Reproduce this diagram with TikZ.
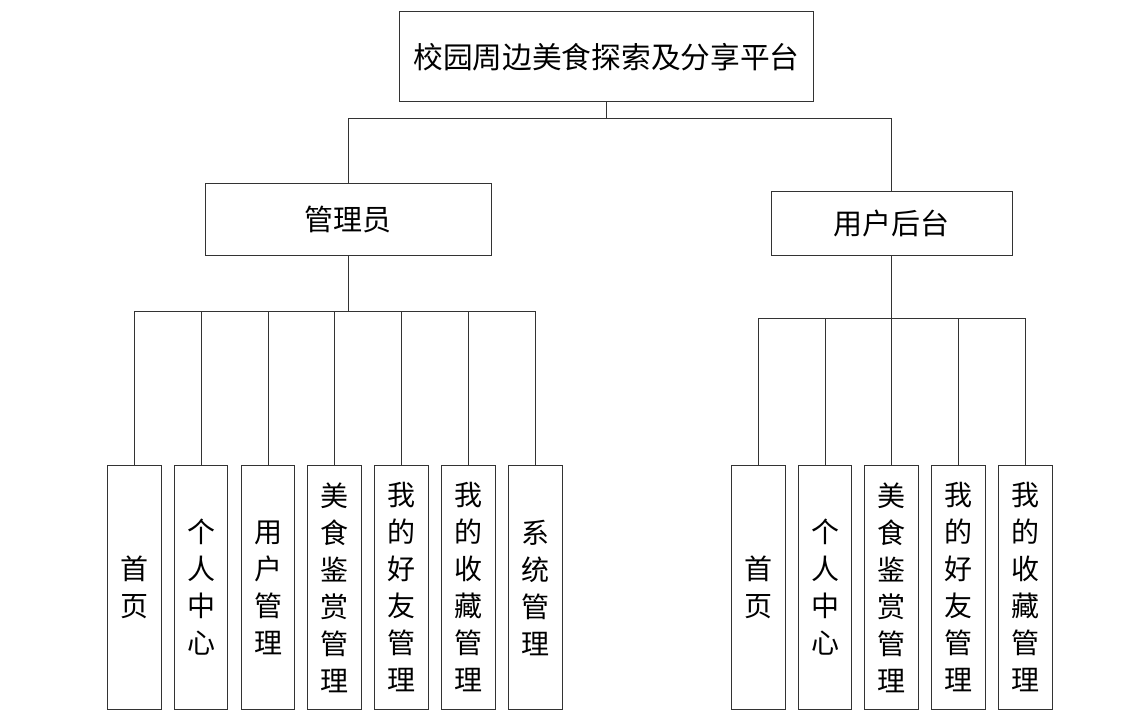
\documentclass[tikz,border=0pt]{standalone}
\usepackage{fontspec}
\setmainfont{Noto Sans CJK SC}
\usepackage{tikz}

\begin{document}
\begin{tikzpicture}[x = 1pt, y = -1pt, line width = .8pt,
		box/.style = {draw = black!80, inner sep = 0pt, align = center},
		leaf/.style = {box, minimum width = 53.7pt, minimum height = 243.6pt, text width = 53.7pt,
			font = \fontsize{28}{37}\selectfont}]
		\useasboundingbox (0, 0) rectangle (1132, 722);
		\node [box, minimum width = 414pt, minimum height = 90pt, font = \fontsize{29.7}{32}\selectfont] (root) at (606.5, 56.9) {校园周边美食探索及分享平台};
		\node [box, minimum width = 285.3pt, minimum height = 71.3pt, font = \fontsize{29}{32}\selectfont] (admin) at (348.3, 219.3) {管理员};
		\node [box, minimum width = 241pt, minimum height = 63.3pt, font = \fontsize{29}{32}\selectfont] (user) at (891.8, 223.3) {用户后台};
		% admin side
		\node [leaf] (a1) at (134.2, 587.5) {首\\页};
		\node [leaf] (a2) at (201, 587.5) {个\\人\\中\\心};
		\node [leaf] (a3) at (268, 587.5) {用\\户\\管\\理};
		\node [leaf] (a4) at (334.5, 587.5) {美\\食\\鉴\\赏\\管\\理};
		\node [leaf] (a5) at (401.5, 587.5) {我\\的\\好\\友\\管\\理};
		\node [leaf] (a6) at (468.5, 587.5) {我\\的\\收\\藏\\管\\理};
		\node [leaf] (a7) at (535.3, 587.5) {系\\统\\管\\理};
		% user side
		\node [leaf] (u1) at (758.2, 587.5) {首\\页};
		\node [leaf] (u2) at (825, 587.5) {个\\人\\中\\心};
		\node [leaf] (u3) at (891.5, 587.5) {美\\食\\鉴\\赏\\管\\理};
		\node [leaf] (u4) at (958.5, 587.5) {我\\的\\好\\友\\管\\理};
		\node [leaf] (u5) at (1025.5, 587.5) {我\\的\\收\\藏\\管\\理};
		% connectors
		\draw [black!80] (root.south) -- ++(0, 16.3) coordinate (rb);
		\draw [black!80] (admin.north) |- (rb) -| (user.north);
		\draw [black!80] (admin.south) -- ++(0, 55.7) coordinate (ab);
		\foreach \n in {a1, a2, a3, a4, a5, a6, a7}
			\draw [black!80] (\n.north) |- (ab);
		\draw [black!80] (user.south) -- ++(0, 63.3) coordinate (ub);
		\foreach \n in {u1, u2, u3, u4, u5}
			\draw [black!80] (\n.north) |- (ub);
	\end{tikzpicture}
\end{document}
